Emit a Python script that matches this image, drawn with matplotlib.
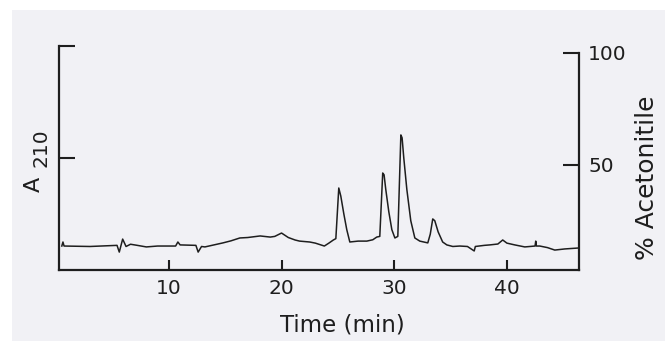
import matplotlib.pyplot as plt
from matplotlib.patches import Rectangle

# HPLC trace: retention time (min) vs absorbance at 210 nm (arbitrary units)
time_min = [0.5, 0.6, 0.7, 3.0, 5.4, 5.6, 5.9, 6.2, 6.6, 7.2, 8.0, 9.0, 10.6, 10.8, 11.0,
            12.4, 12.6, 12.9, 13.2, 14.0, 14.8, 15.5, 16.3, 17.0, 18.1, 19.0, 19.4, 20.0,
            20.6, 21.2, 21.6, 22.5, 23.0, 23.8, 24.2, 24.6, 24.82, 25.08, 25.26, 25.53,
            25.79, 26.06, 26.8, 27.57, 28.1, 28.45, 28.72, 28.98, 29.1, 29.25, 29.52, 29.79,
            30.06, 30.32, 30.59, 30.7, 30.85, 31.12, 31.47, 31.83, 32.27, 32.98, 33.2, 33.42,
            33.6, 33.9, 34.3, 34.67, 35.2, 35.82, 36.5, 37.1, 37.2, 38.0, 38.48, 39.2, 39.63,
            40.0, 40.7, 41.59, 42.5, 42.56, 42.62, 42.92, 43.6, 44.25, 45.14, 46.29]
a210 = [0.107, 0.125, 0.107, 0.105, 0.110, 0.080, 0.138, 0.105, 0.115, 0.110, 0.103, 0.107,
        0.107, 0.125, 0.112, 0.110, 0.080, 0.105, 0.103, 0.112, 0.121, 0.130, 0.143, 0.145,
        0.152, 0.147, 0.150, 0.165, 0.145, 0.134, 0.129, 0.125, 0.120, 0.107, 0.120, 0.134,
        0.140, 0.366, 0.330, 0.250, 0.180, 0.125, 0.129, 0.129, 0.135, 0.147, 0.150, 0.433,
        0.425, 0.360, 0.260, 0.180, 0.143, 0.150, 0.603, 0.590, 0.500, 0.360, 0.220, 0.143,
        0.129, 0.121, 0.160, 0.228, 0.220, 0.170, 0.125, 0.112, 0.105, 0.107, 0.105, 0.085,
        0.105, 0.110, 0.112, 0.116, 0.134, 0.120, 0.112, 0.103, 0.107, 0.129, 0.107, 0.107,
        0.100, 0.089, 0.094, 0.098]

time_ticks = [10, 20, 30, 40]
a210_ticks = [0.5, 1.0]
acn_ticks = [50, 100]

ink = '#1e1e1e'

fig = plt.figure(figsize=(6.65, 3.41), dpi=100, facecolor='white')
# scanned page tone
fig.patches.append(Rectangle((12 / 665, 0), 1, 1 - 10 / 341, transform=fig.transFigure,
                             facecolor='#f1f1f5', edgecolor='none', zorder=-10))

ax = fig.add_axes([59 / 665, 1 - 270 / 341, 520 / 665, 224 / 341])
ax.patch.set_visible(False)
ax.plot(time_min, a210, color=ink, lw=1.1)
ax.set_xlim(0.25, 46.4)
ax.set_ylim(0, 1)

ax.spines['top'].set_visible(False)
ax.spines['right'].set_visible(False)
for s in ['left', 'bottom']:
    ax.spines[s].set_linewidth(1.6)
    ax.spines[s].set_color(ink)

ax.set_xticks(time_ticks)
ax.set_yticks(a210_ticks)
ax.set_yticklabels([])
ax.tick_params(axis='x', direction='in', length=7.5, width=1.5, color=ink,
               labelsize=14.5, pad=6.5, labelcolor=ink)
ax.tick_params(axis='y', direction='in', length=11.5, width=1.5, color=ink)

# right axis: acetonitrile gradient scale
ax2 = ax.twinx()
ax2.set_ylim(3, 103)
ax2.set_yticks(acn_ticks)
ax2.spines['top'].set_visible(False)
ax2.spines['left'].set_visible(False)
ax2.spines['bottom'].set_visible(False)
ax2.spines['right'].set_linewidth(1.6)
ax2.spines['right'].set_color(ink)
ax2.spines['right'].set_bounds(3, 100)
ax2.tick_params(axis='y', direction='in', length=11.5, width=1.5, color=ink,
                labelsize=14.5, pad=6.5, labelcolor=ink)

fig.text(34 / 665, 1 - 184.5 / 341, 'A', rotation=90, ha='center', va='center',
         fontsize=16, color=ink)
fig.text(41 / 665, 1 - 148 / 341, '210', rotation=90, ha='center', va='center',
         fontsize=14.5, color=ink)
fig.text(647 / 665, 1 - 178 / 341, '% Acetonitile', rotation=90, ha='center', va='center',
         fontsize=18, color=ink)
fig.text(342 / 665, 1 - 325 / 341, 'Time (min)', ha='center', va='center',
         fontsize=16.5, color=ink)

fig.savefig('out.png', dpi=100)
